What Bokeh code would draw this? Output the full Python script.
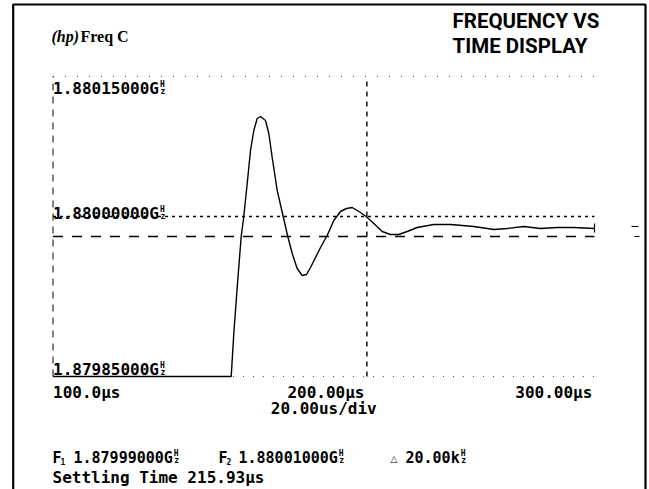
from bokeh.plotting import figure
from bokeh.models import Range1d
from bokeh.core.properties import value
from bokeh.embed import file_html
from bokeh.resources import INLINE

# ---------------- data ----------------
time_us = [100.0, 165.82, 166.78, 168.03, 169.51, 170.47, 171.73, 172.95, 174.17,
           175.42, 176.64, 178.49, 179.71, 180.96, 182.81, 185.02, 186.72, 188.35,
           190.19, 192.04, 193.63, 195.11, 196.95, 198.80, 201.27, 203.71, 206.19,
           208.40, 210.51, 213.57, 215.68, 218.49, 221.59, 224.65, 227.72, 230.82,
           234.52, 240.65, 246.81, 255.42, 262.81, 267.76, 273.89, 280.06, 286.22,
           292.35, 300.0]
freq_ghz = [1.879850, 1.879850, 1.879893, 1.879939, 1.879990, 1.880010, 1.880043,
            1.880076, 1.880096, 1.880108, 1.880110, 1.880106, 1.880093, 1.880069,
            1.880036, 1.880010, 1.879990, 1.879973, 1.879958, 1.879951, 1.879952,
            1.879959, 1.879969, 1.879979, 1.879991, 1.880006, 1.880015, 1.880018,
            1.880019, 1.880014, 1.880010, 1.880003, 1.879995, 1.879992, 1.879992,
            1.879995, 1.879999, 1.880002, 1.880002, 1.880000, 1.879997, 1.879998,
            1.880000, 1.879998, 1.879999, 1.879999, 1.879998]

time_ticks_us = [100, 200, 300]
time_tick_labels = ["100.0µs", "200.00µs", "300.00µs"]
freq_ticks_ghz = [1.88015, 1.88000, 1.87985]
freq_tick_labels = ["1.88015000G", "1.88000000G", "1.87985000G"]
f1_ghz = 1.87999
f2_ghz = 1.88001
settling_us = 215.93
f1_label = "1.87999000G"
f2_label = "1.88001000G"
delta_label = "20.00k"
div_label = "20.00us/div"
settling_label = "Settling Time 215.93µs"

# ---------------- layout helpers (screen px -> data) ----------------
W, H = 649, 489
X0_PX, PX_PER_US = 52.5, 2.7075
Y0_PX, PX_PER_GHZ = 226.0, 1.0e6


def tx(px):
    return 100 + (px - X0_PX) / PX_PER_US


def fy(py):
    return 1.88 + (Y0_PX - py) / PX_PER_GHZ


p = figure(width=W, height=H, output_backend="svg", toolbar_location=None,
           x_range=Range1d(tx(0), tx(W)), y_range=Range1d(fy(H), fy(0)),
           x_axis_location=None, y_axis_location=None, min_border=0)
p.grid.visible = False
p.outline_line_color = None
p.background_fill_color = "white"
p.border_fill_color = "white"

MONO = value("DejaVu Sans Mono")
FS = "16px"
CHW = 0.602 * 16
FS_FOOT = "15px"
CHW_FOOT = 0.602 * 15
SMALL = "8px"


def txt(x, y, s, font=MONO, size=FS, style="bold", align="left"):
    p.text([x], [y], text=[s], text_font=font, text_font_size=size,
           text_font_style=style, text_align=align, text_baseline="middle",
           text_color="black")


# outer frame (left, top, right)
p.line([tx(12.7), tx(12.7), tx(645), tx(645)], [fy(H + 5), fy(4), fy(4), fy(H + 5)],
       line_color="black", line_width=2.2)

t0, t1 = time_ticks_us[0], time_ticks_us[-1]
ftop, fbot = freq_ticks_ghz[0], freq_ticks_ghz[-1]

# graticule: sparse dotted top and bottom, dashed left edge
p.line([t0, t1], [ftop, ftop], line_color="#555555", line_width=1, line_dash="1 11")
p.line([t0, t1], [fbot, fbot], line_color="#555555", line_width=1, line_dash="1 9")
p.line([t0, t0], [fbot, ftop], line_color="black", line_width=1, line_dash="7 6")

# limit lines
p.line([t0, t1], [f2_ghz, f2_ghz], line_color="black", line_width=1.3, line_dash="3 4")
p.line([t0, t1], [f1_ghz, f1_ghz], line_color="black", line_width=1.3, line_dash="10 9")

# settling time marker
p.line([settling_us, settling_us], [fbot, ftop], line_color="black", line_width=1.4,
       line_dash="5 5")

# trace
p.line(time_us, freq_ghz, line_color="black", line_width=1.4)
# end-of-trace tick
p.line([time_us[-1], time_us[-1]], [freq_ghz[-1] - 4e-6, freq_ghz[-1] + 5e-6],
       line_color="black", line_width=1.2)
# small marks outside on the right
p.line([tx(631), tx(638)], [fy(226), fy(226)], line_color="black", line_width=1)
p.line([tx(634), tx(639)], [fy(236), fy(236)], line_color="black", line_width=1)


def hz(x_px, c_px):
    txt(tx(x_px), fy(c_px - 4), "H", size=SMALL)
    txt(tx(x_px + 0.5), fy(c_px + 3), "z", size=SMALL)


# frequency labels inside the display
label_center_px = [88, 213, 369]
for lab, cpx in zip(freq_tick_labels, label_center_px):
    txt(t0, fy(cpx), lab)
    hz(X0_PX + len(lab) * CHW + 1, cpx)

# time labels
time_center_px = 392
aligns = ["left", "center", "right"]
xs = [t0, 200.8, t1 - 0.8]
for x, lab, al in zip(xs, time_tick_labels, aligns):
    txt(x, fy(time_center_px), lab, align=al)
txt(200, fy(408), div_label, align="center")

# header
txt(tx(51), fy(36), "(hp)", font=value("Liberation Serif"), size="16px",
    style="bold italic")
txt(tx(80), fy(36), "Freq C", font=value("Liberation Serif"), size="16px",
    style="bold")
TITLE_FONT = value("Roboto")
txt(tx(452), fy(20), "FREQUENCY VS", font=TITLE_FONT, size="20.5px")
txt(tx(452), fy(45), "TIME DISPLAY", font=TITLE_FONT, size="20.5px")

# footer
fc = 457
txt(tx(52), fy(fc), "F", size=FS_FOOT)
txt(tx(60), fy(fc + 4), "1", size=SMALL)
txt(tx(73), fy(fc), f1_label, size=FS_FOOT)
hz(73 + len(f1_label) * CHW_FOOT + 1, fc)

txt(tx(218), fy(fc), "F", size=FS_FOOT)
txt(tx(226), fy(fc + 4), "2", size=SMALL)
txt(tx(238), fy(fc), f2_label, size=FS_FOOT)
hz(238 + len(f2_label) * CHW_FOOT + 1, fc)

txt(tx(390), fy(fc + 1), "△", font=value("DejaVu Sans"), size="9px", style="normal")
txt(tx(405), fy(fc), delta_label, size=FS_FOOT)
hz(405 + len(delta_label) * CHW_FOOT + 1, fc)

txt(tx(52), fy(477), settling_label)

open("out.html", "w").write(file_html(p, INLINE))
